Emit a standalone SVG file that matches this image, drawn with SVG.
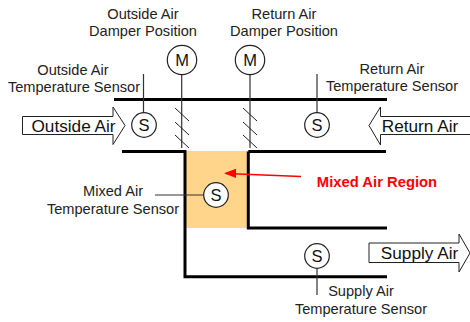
<svg xmlns="http://www.w3.org/2000/svg" width="470" height="322" viewBox="0 0 470 322">
<style>
text{font-family:"Liberation Sans",Arial,sans-serif;fill:#222;text-anchor:middle}
.l{font-size:14.600px}
.b{font-size:16.500px;fill:#111}
.d{fill:none;stroke:#000;stroke-width:3}
.t{fill:none;stroke:#333;stroke-width:1.2}
.h{fill:none;stroke:#222;stroke-width:1}
.c{fill:#fff;stroke:#222;stroke-width:1.2}
.a{fill:#fff;stroke:#222;stroke-width:1}
.g{font-size:17.200px;fill:#111}
</style>
<rect x="186" y="151" width="62" height="77" fill="#fed58a"/>
<g id="connectors">
<path class="d" d="M114 99.500H387M122 151.500H185V276.700H387M248.300 151.500H386M248.300 151.500V228H387"/>
<path class="t" d="M143.500 74V114M181.700 74V148M250 74V148M317 74V114M155 195H204M317 268V295"/>
<path class="h" d="M175 108L189 121M175 122L189 135M175 135L189 148M243 108L257 121M243 122L257 135M243 135L257 148"/>
<path d="M301 176.500L226 173.500" fill="none" stroke="#f00" stroke-width="1.4"/>
<path d="M224 173.300L236 168.800V178Z" fill="#f00"/>
</g>
<g id="outside-air-arrow"><path class="a" d="M22.500 116.500H113V107L125 125.500L113 144.500V134.500H22.500Z"/><text class="g" x="73.500" y="132">Outside Air</text></g>
<g id="return-air-arrow"><path class="a" d="M470 116.500H380.500V107L369 125.500L380.500 145V134.500H470"/><text class="g" x="420" y="132">Return Air</text></g>
<g id="supply-air-arrow"><path class="a" d="M369 243H459V234L470 253L459 272V262.500H369Z"/><text class="g" x="419.500" y="259">Supply Air</text></g>
<g id="outside-sensor"><circle class="c" cx="144" cy="125" r="12.300"/><text class="b" x="144" y="131">S</text></g>
<g id="return-sensor"><circle class="c" cx="317" cy="125" r="12.300"/><text class="b" x="317" y="131">S</text></g>
<g id="mixed-sensor"><circle class="c" cx="216" cy="195" r="12.300"/><text class="b" x="216" y="201">S</text></g>
<g id="supply-sensor"><circle class="c" cx="317" cy="256" r="12.300"/><text class="b" x="317" y="262">S</text></g>
<g id="outside-damper"><circle class="c" cx="182" cy="60" r="14.700"/><text class="b" x="182" y="66">M</text></g>
<g id="return-damper"><circle class="c" cx="250" cy="60" r="14.700"/><text class="b" x="250" y="66">M</text></g>
<g id="labels">
<text class="l" x="143" y="19">Outside Air</text><text class="l" x="143" y="36">Damper Position</text>
<text class="l" x="284" y="19">Return Air</text><text class="l" x="284" y="36">Damper Position</text>
<text class="l" x="73" y="75">Outside Air</text><text class="l" x="74" y="92">Temperature Sensor</text>
<text class="l" x="392" y="74">Return Air</text><text class="l" x="392" y="91">Temperature Sensor</text>
<text class="l" x="113" y="196">Mixed Air</text><text class="l" x="113" y="214">Temperature Sensor</text>
<text class="l" x="361" y="296">Supply Air</text><text class="l" x="361" y="314">Temperature Sensor</text>
<text x="377" y="187" style="font-size:14.800px;font-weight:bold;fill:#f00">Mixed Air Region</text>
</g>
</svg>
